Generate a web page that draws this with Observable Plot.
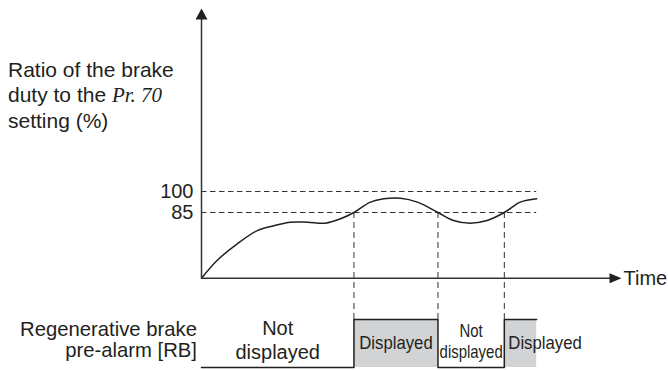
<!DOCTYPE html>
<html>
<head>
<meta charset="utf-8">
<script src="https://cdn.jsdelivr.net/npm/d3@7"></script>
<script src="https://cdn.jsdelivr.net/npm/@observablehq/plot@0.6"></script>
<style>
  body { margin: 0; background: #fff; }
  #chart { position: relative; width: 668px; height: 370px; font-family: "Liberation Sans", Arial, sans-serif; color: #231f20; }
  #chart svg { display: block; }
  .ylab { position: absolute; left: 8px; top: 56.8px; font-size: 21px; line-height: 25px; white-space: nowrap; }
  .ylab i { font-family: "Liberation Serif", "Times New Roman", serif; }
  .siglab { position: absolute; left: 0; width: 197px; top: 318.8px; text-align: right; font-size: 20.3px; line-height: 21.6px; white-space: nowrap; }
</style>
</head>
<body>
<div id="chart">
  <div class="ylab">Ratio of the brake<br>duty to the <i>Pr. 70</i><br>setting (%)</div>
  <div class="siglab">Regenerative brake<br>pre-alarm [RB]</div>
</div>
<script>
// ---- data ----
const curveTime  = [0, 3.7, 8.5, 13.3, 17.4, 21.2, 25.2, 29.5, 33.1, 36.3, 40.2, 43.4, 47.4, 51.4, 56.3, 60.0, 64.0, 68.0, 72.1, 75.9, 79.8];
const curveRatio = [38, 50.7, 62.6, 72.1, 75.7, 78.1, 78.1, 77.4, 80.5, 85, 92.4, 94.8, 95.2, 92.4, 85, 79.3, 77.4, 79.3, 85, 92.4, 94.8];
const ratioTicks = [100, 85];
const crossTime  = [36.3, 56.3, 72.1];
const switchTime = [0, 36.3, 56.3, 72.1, 79.8];
const alarmState = [0, 1, 0, 1, 1];
const stateLabels = ["Not\ndisplayed", "Displayed", "Not\ndisplayed", "Displayed"];

// axis extents
const timeMax = 100;
const ratioOrigin = 38;
const ratioAxisTop = 230.7;
const ratioDomain = [22.14, 236.43];
const refEnd = 79.8;
const sigTop = 1.396;

const ink = "#231f20";
const lineInk = "#333";
const font = '"Liberation Sans", Arial, sans-serif';

const arrowUp = {draw(ctx, size) {
  const r = Math.sqrt(size / Math.PI);
  ctx.moveTo(0, 0); ctx.lineTo(r, r * 11 / 6); ctx.lineTo(-r, r * 11 / 6); ctx.closePath();
}};
const arrowRight = {draw(ctx, size) {
  const r = Math.sqrt(size / Math.PI);
  ctx.moveTo(0, 0); ctx.lineTo(-2 * r, -r * 5 / 6); ctx.lineTo(-2 * r, r * 5 / 6); ctx.closePath();
}};

const curveData = curveTime.map((t, i) => ({t, v: curveRatio[i]}));

const topPlot = Plot.plot({
  width: 668, height: 300,
  marginLeft: 201, marginRight: 47, marginTop: 0, marginBottom: 0,
  style: {fontFamily: font, fontSize: "20px", color: ink, background: "transparent", overflow: "visible"},
  x: {domain: [0, timeMax], axis: null},
  y: {domain: ratioDomain, ticks: ratioTicks, tickSize: 0, tickPadding: 8, label: null},
  marks: [
    Plot.ruleY(ratioTicks, {x1: 0, x2: refEnd, stroke: lineInk, strokeWidth: 1, strokeDasharray: "5.5,3.5"}),
    Plot.ruleX(crossTime, {y1: 85, y2: ratioDomain[0], stroke: lineInk, strokeWidth: 1, strokeDasharray: "6,4"}),
    Plot.line(curveData, {x: "t", y: "v", curve: "catmull-rom", stroke: ink, strokeWidth: 1.5}),
    Plot.ruleX([0], {y1: ratioOrigin, y2: ratioAxisTop - 3, stroke: lineInk, strokeWidth: 1.5}),
    Plot.ruleY([ratioOrigin], {x1: 0, x2: timeMax - 1, stroke: lineInk, strokeWidth: 1.5}),
    Plot.dot([0], {x: d => d, y: () => ratioAxisTop, symbol: arrowUp, r: 6, fill: ink, stroke: null}),
    Plot.dot([timeMax], {x: d => d, y: () => ratioOrigin, symbol: arrowRight, r: 6, fill: ink, stroke: null}),
    Plot.text(["Time"], {x: () => timeMax, y: () => ratioOrigin, text: d => d, textAnchor: "start", dx: 2, lineAnchor: "middle", fontSize: 20, fill: ink})
  ]
});

const segs = switchTime.slice(0, -1).map((t, i) => ({x1: t, x2: switchTime[i + 1], on: alarmState[i], label: stateLabels[i]}));
const mid = d => (d.x1 + d.x2) / 2;

const sigPlot = Plot.plot({
  width: 668, height: 70,
  marginLeft: 201, marginRight: 47, marginTop: 0, marginBottom: 0,
  style: {fontFamily: font, fontSize: "18px", color: ink, background: "transparent", overflow: "visible"},
  x: {domain: [0, timeMax], axis: null},
  y: {domain: [0, 1], range: [67, 19], axis: null},
  marks: [
    Plot.rect(segs.filter(d => d.on), {x1: "x1", x2: "x2", y1: () => 0, y2: () => 1, fill: "#d1d3d4"}),
    Plot.ruleX(crossTime, {y1: () => 1, y2: () => sigTop, stroke: lineInk, strokeWidth: 1, strokeDasharray: "6,4"}),
    Plot.line(switchTime, {x: d => d, y: (d, i) => alarmState[i], curve: "step-after", stroke: ink, strokeWidth: 1.5}),
    Plot.text([segs[0]], {x: mid, y: () => 0.1875, text: "label", lineAnchor: "bottom", lineHeight: 1.18, fontSize: 20, fill: ink}),
    Plot.text([segs[1]], {x: mid, y: () => 0.385, text: "label", lineAnchor: "bottom", fontSize: 18, fill: ink, ariaDescription: "condensed-labels"}),
    Plot.text([segs[2]], {x: mid, y: () => 0.208, text: "label", lineAnchor: "bottom", lineHeight: 1.13, fontSize: 18, fill: ink, ariaDescription: "narrow-labels"}),
    Plot.text([segs[3]], {x: "x1", y: () => 0.385, text: "label", textAnchor: "start", dx: 4, lineAnchor: "bottom", fontSize: 18, fill: ink, ariaDescription: "condensed-labels"})
  ]
});

// condense the label type the way the reference does
function squeeze(svg, label, k) {
  d3.select(svg).selectAll(`g[aria-description="${label}"] text`).each(function() {
    const el = d3.select(this);
    const t = el.attr("transform");
    if (t) {
      el.attr("transform", `${t} scale(${k},1)`);
    } else {
      const x = +el.attr("x") || 0;
      el.attr("transform", `translate(${x},0) scale(${k},1) translate(${-x},0)`);
    }
  });
}
squeeze(sigPlot, "narrow-labels", 0.83);
squeeze(sigPlot, "condensed-labels", 0.93);

const chart = document.getElementById("chart");
chart.prepend(sigPlot);
chart.prepend(topPlot);
</script>
</body>
</html>
